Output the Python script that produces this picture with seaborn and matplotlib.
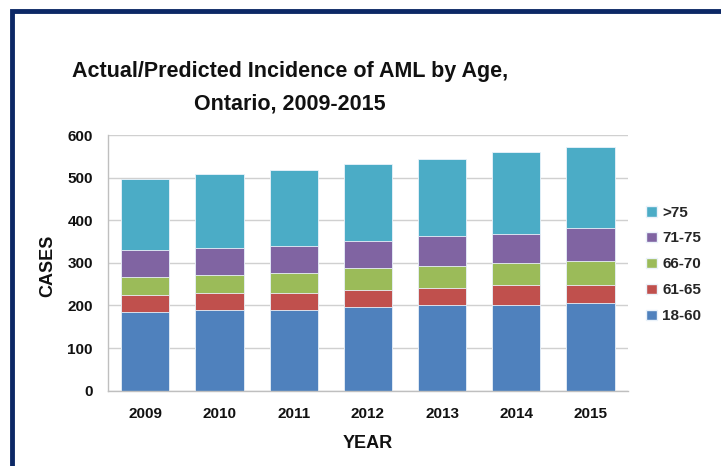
import numpy as np
import pandas as pd
import matplotlib.pyplot as plt
import seaborn as sns
from matplotlib import font_manager
from matplotlib.patches import Patch, Rectangle

# Data
years = ['2009', '2010', '2011', '2012', '2013', '2014', '2015']
age_groups = ['18-60', '61-65', '66-70', '71-75', '>75']
cases_18_60 = [184, 190, 190, 196, 201, 201, 206]
cases_61_65 = [41, 40, 40, 40, 41, 46, 41]
cases_66_70 = [41, 41, 46, 53, 51, 52, 58]
cases_71_75 = [63, 63, 63, 62, 70, 69, 76]
cases_over_75 = [168, 174, 180, 181, 180, 192, 191]
y_ticks = [0, 100, 200, 300, 400, 500, 600]

colors = ['#4F81BD', '#C0504D', '#9BBB59', '#8064A2', '#4BACC6']

sns.set_theme(style="whitegrid")
plt.rcParams['font.family'] = ['Liberation Sans', 'DejaVu Sans']

# title in the reference is a bit condensed
installed = {f.name for f in font_manager.fontManager.ttflist}
if 'Liberation Sans Narrow' in installed:
    title_family = ['Liberation Sans Narrow', 'DejaVu Sans']
    title_size = 17.5
else:
    title_family = ['Liberation Sans', 'DejaVu Sans']
    title_size = 15.5

df = pd.DataFrame({
    'Year': years,
    '18-60': cases_18_60,
    '61-65': cases_61_65,
    '66-70': cases_66_70,
    '71-75': cases_71_75,
    '>75': cases_over_75,
})
# cumulative heights so each segment can be drawn as an overlaid bar
cum = df[age_groups].cumsum(axis=1)

fig = plt.figure(figsize=(7.21, 4.66), dpi=100)
fig.patch.set_facecolor('white')
ax = fig.add_axes([0.150, 0.1616, 0.7206, 0.5487])

# Draw from the tallest stack down so smaller layers sit on top
for grp, col in zip(reversed(age_groups), reversed(colors)):
    sns.barplot(x=df['Year'], y=cum[grp], color=col, width=0.65,
                edgecolor='#EAF2FA', linewidth=0.6, saturation=1, ax=ax)

ax.set_ylim(0, 600)
ax.set_yticks(y_ticks)
ax.set_xlim(-0.5, len(years) - 0.5)
ax.grid(axis='y', color='#D0D0D0', linewidth=1)
ax.grid(axis='x', visible=False)
ax.set_axisbelow(True)
for side in ['top', 'right']:
    ax.spines[side].set_visible(False)
for side in ['left', 'bottom']:
    ax.spines[side].set_color('#BFBFBF')
    ax.spines[side].set_linewidth(1)
ax.set_facecolor('white')

ax.tick_params(axis='both', length=0, labelsize=11)
ax.tick_params(axis='x', pad=12)
ax.tick_params(axis='y', pad=11)
for lbl in ax.get_xticklabels() + ax.get_yticklabels():
    lbl.set_fontweight('bold')
    lbl.set_color('#111111')

ax.set_xlabel('YEAR', fontsize=13, fontweight='bold', color='#111111', labelpad=10)
ax.set_ylabel('CASES', fontsize=13, fontweight='bold', color='#111111')
ax.yaxis.set_label_coords(-0.099, 0.49)

fig.text(0.402, 1 - 77 / 466, 'Actual/Predicted Incidence of AML by Age,',
         ha='center', va='baseline', fontsize=title_size, fontweight='bold',
         color='#111111', family=title_family)
fig.text(0.402, 1 - 109.5 / 466, 'Ontario, 2009-2015',
         ha='center', va='baseline', fontsize=title_size, fontweight='bold',
         color='#111111', family=title_family)

handles = [Patch(facecolor=c, edgecolor='#EAF2FA', label=g)
           for g, c in zip(reversed(age_groups), reversed(colors))]
fig.legend(handles=handles, loc='upper left', bbox_to_anchor=(0.888, 0.572),
           frameon=False, prop={'weight': 'bold', 'size': 11},
           handlelength=0.7, handleheight=0.7, handletextpad=0.35,
           labelspacing=0.78, borderaxespad=0)

# dark navy frame (top and left edges visible in the reference)
fig.add_artist(Rectangle((12 / 721, -0.1), 1.2, 1.1 - 11 / 466,
                         transform=fig.transFigure, fill=False,
                         edgecolor='#0C2866', linewidth=3.5))

fig.savefig('out.png', dpi=100)
